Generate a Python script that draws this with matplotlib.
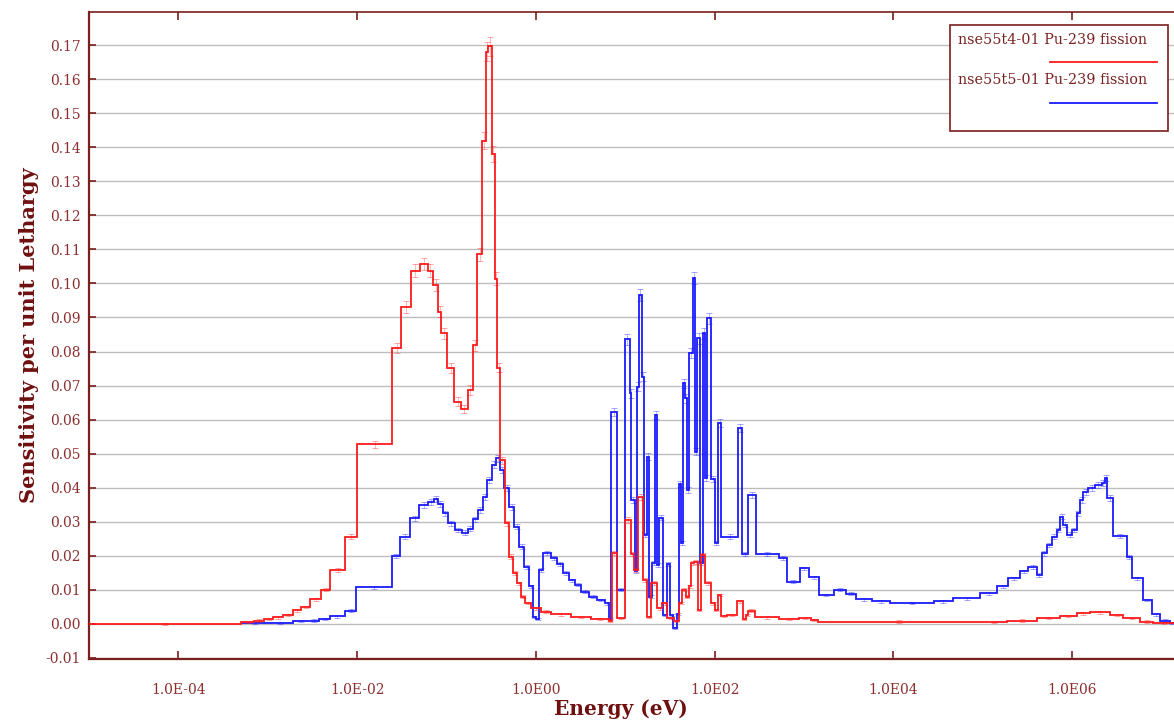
"""Pu-239 fission sensitivity profiles, two cases, on a log energy axis."""

import numpy as np
import matplotlib

matplotlib.use("Agg")
import matplotlib.pyplot as plt
from matplotlib.lines import Line2D
from matplotlib.patches import Rectangle
from matplotlib.ticker import FixedLocator, FuncFormatter

# group boundaries given as log10(E / eV); one more edge than values
red_log_edges = [
    -5.0, -3.296, -3.151, -3.039, -2.939, -2.827, -2.715, -2.626, -2.525, -2.402,
    -2.302, -2.134, -2.000, -1.609, -1.508, -1.397, -1.302, -1.212, -1.151, -1.095,
    -1.056, -0.994, -0.911, -0.838, -0.760, -0.704, -0.659, -0.598, -0.559, -0.531,
    -0.492, -0.458, -0.430, -0.402, -0.346, -0.296, -0.257, -0.212, -0.168, -0.123,
    -0.056, 0.056, 0.168, 0.391, 0.615, 0.816, 0.849, 0.905, 0.994, 1.061,
    1.098, 1.143, 1.203, 1.248, 1.293, 1.360, 1.416, 1.472, 1.545, 1.601,
    1.639, 1.676, 1.713, 1.740, 1.769, 1.813, 1.844, 1.888, 1.963, 2.000,
    2.037, 2.075, 2.142, 2.254, 2.313, 2.346, 2.372, 2.447, 2.718, 2.942,
    3.073, 3.162, 4.972, 5.270, 5.606, 5.866, 6.053, 6.201, 6.425, 6.573,
    6.760, 6.908, 7.140,
]
red_values = [
    0.0, 0.0005, 0.0010, 0.0014, 0.0019, 0.0026, 0.0040, 0.0050, 0.0072, 0.0100,
    0.0159, 0.0256, 0.0527, 0.0810, 0.0930, 0.1037, 0.1057, 0.1037, 0.0996, 0.0917,
    0.0854, 0.0751, 0.0653, 0.0631, 0.0687, 0.0818, 0.1085, 0.1419, 0.1680, 0.1696,
    0.1380, 0.1014, 0.0753, 0.0481, 0.0296, 0.0198, 0.0149, 0.0119, 0.0080, 0.0061,
    0.0046, 0.0036, 0.0028, 0.0020, 0.0015, 0.0010, 0.0208, 0.0017, 0.0305, 0.0205,
    0.0159, 0.0374, 0.0129, 0.0021, 0.0120, 0.0046, 0.0060, 0.0017, 0.0008, 0.0061,
    0.0100, 0.0080, 0.0110, 0.0178, 0.0183, 0.0041, 0.0203, 0.0120, 0.0060, 0.0041,
    0.0085, 0.0023, 0.0027, 0.0066, 0.0015, 0.0026, 0.0039, 0.0019, 0.0014, 0.0017,
    0.0011, 0.0007, 0.0006, 0.0010, 0.0017, 0.0024, 0.0031, 0.0034, 0.0026, 0.0017,
    0.0007, 0.0002,
]

blue_log_edges = [
    -3.296, -2.998, -2.718, -2.533, -2.421, -2.309, -2.134, -2.008, -1.609, -1.516,
    -1.404, -1.304, -1.210, -1.143, -1.098, -1.042, -0.987, -0.905, -0.830, -0.763,
    -0.707, -0.651, -0.596, -0.547, -0.495, -0.447, -0.399, -0.354, -0.298, -0.242,
    -0.187, -0.131, -0.075, -0.037, 0.000, 0.037, 0.075, 0.168, 0.235, 0.302,
    0.369, 0.436, 0.503, 0.592, 0.682, 0.771, 0.819, 0.846, 0.905, 0.994,
    1.054, 1.069, 1.106, 1.136, 1.154, 1.184, 1.210, 1.240, 1.270, 1.304,
    1.330, 1.360, 1.382, 1.427, 1.464, 1.501, 1.539, 1.575, 1.601, 1.620,
    1.642, 1.668, 1.687, 1.713, 1.754, 1.780, 1.807, 1.836, 1.866, 1.888,
    1.918, 1.955, 2.000, 2.037, 2.075, 2.260, 2.309, 2.372, 2.458, 2.718,
    2.812, 2.953, 3.054, 3.165, 3.333, 3.475, 3.587, 3.762, 3.966, 4.450,
    4.670, 4.972, 5.159, 5.288, 5.419, 5.512, 5.606, 5.661, 5.717, 5.773,
    5.829, 5.866, 5.903, 5.947, 5.997, 6.053, 6.089, 6.126, 6.182, 6.257,
    6.332, 6.369, 6.388, 6.462, 6.611, 6.667, 6.790, 6.891, 6.983, 7.095,
    7.140,
]
blue_values = [
    0.0002, 0.0004, 0.0008, 0.0010, 0.0015, 0.0022, 0.0039, 0.0108, 0.0200, 0.0256,
    0.0310, 0.0349, 0.0359, 0.0366, 0.0352, 0.0325, 0.0296, 0.0276, 0.0268, 0.0280,
    0.0307, 0.0335, 0.0374, 0.0423, 0.0467, 0.0486, 0.0452, 0.0398, 0.0344, 0.0286,
    0.0227, 0.0168, 0.0110, 0.0021, 0.0015, 0.0159, 0.0208, 0.0195, 0.0175, 0.0150,
    0.0128, 0.0115, 0.0095, 0.0080, 0.0070, 0.0060, 0.0015, 0.0623, 0.0100, 0.0836,
    0.0677, 0.0364, 0.0154, 0.0697, 0.0966, 0.0726, 0.0261, 0.0491, 0.0080, 0.0178,
    0.0614, 0.0173, 0.0312, 0.0027, 0.0175, 0.0027, -0.0013, 0.0030, 0.0412, 0.0237,
    0.0707, 0.0663, 0.0393, 0.0795, 0.1015, 0.0506, 0.0839, 0.0180, 0.0853, 0.0428,
    0.0898, 0.0425, 0.0237, 0.0589, 0.0256, 0.0575, 0.0205, 0.0379, 0.0205, 0.0193,
    0.0124, 0.0163, 0.0137, 0.0085, 0.0100, 0.0088, 0.0072, 0.0066, 0.0061, 0.0066,
    0.0075, 0.0090, 0.0110, 0.0134, 0.0154, 0.0168, 0.0144, 0.0207, 0.0232, 0.0256,
    0.0276, 0.0315, 0.0291, 0.0262, 0.0276, 0.0325, 0.0364, 0.0388, 0.0398, 0.0408,
    0.0413, 0.0428, 0.0369, 0.0258, 0.0196, 0.0134, 0.0070, 0.0028, 0.0010, 0.0003,
]

series_labels = ["nse55t4-01 Pu-239 fission", "nse55t5-01 Pu-239 fission"]
x_tick_exponents = [-4, -2, 0, 2, 4, 6]
y_ticks = [round(0.01 * k, 2) for k in range(-1, 18)]

RED = "#ff1a1a"
BLUE = "#1a1aff"
AXIS = "#7a1e1e"
TICK_TEXT = "#8c2f2f"
GRID = "#bdbdbd"


def _draw_series(ax, log_edges, values, color, zorder):
    edges = 10.0 ** np.asarray(log_edges)
    vals = np.asarray(values)
    ax.stairs(vals, edges, baseline=None, color=color, linewidth=1.3, zorder=zorder)
    # faint error marks at each group centre, as in the original plot
    centres = np.sqrt(edges[:-1] * edges[1:])
    err = 0.015 * np.abs(vals) + 0.0003
    ax.errorbar(centres, vals, yerr=err, fmt="none", ecolor=color, elinewidth=0.4,
                capsize=2.2, capthick=0.5, alpha=0.55, zorder=zorder - 0.5)


def _exp_label(value, _pos):
    exp = int(round(np.log10(value)))
    sign = "-" if exp < 0 else ""
    return f"1.0E{sign}{abs(exp):02d}"


plt.rcParams["font.family"] = ["DejaVu Serif"]

fig = plt.figure(figsize=(11.74, 7.23), dpi=100)
ax = fig.add_axes([89 / 1174, 64 / 723, 1085 / 1174, 647 / 723])

_draw_series(ax, blue_log_edges, blue_values, BLUE, zorder=3)
_draw_series(ax, red_log_edges, red_values, RED, zorder=4)

ax.set_xscale("log")
ax.set_xlim(10.0 ** red_log_edges[0], 10.0 ** red_log_edges[-1])
ax.set_ylim(-0.0103, 0.1797)

ax.xaxis.set_major_locator(FixedLocator([10.0 ** e for e in x_tick_exponents]))
ax.xaxis.set_minor_locator(FixedLocator([]))
ax.xaxis.set_major_formatter(FuncFormatter(_exp_label))
ax.yaxis.set_major_locator(FixedLocator(y_ticks))
ax.yaxis.set_major_formatter(FuncFormatter(lambda v, _p: f"{v:.2f}"))

ax.tick_params(axis="x", which="major", direction="in", top=True, length=6,
               width=1.2, color=AXIS, labelcolor=TICK_TEXT, labelsize=10, pad=17)
ax.tick_params(axis="y", which="major", direction="in", length=5, width=1.2,
               color=AXIS, labelcolor=TICK_TEXT, labelsize=10, pad=6)

ax.grid(True, axis="y", color=GRID, linewidth=1.0)
ax.set_axisbelow(True)
for name, spine in ax.spines.items():
    spine.set_color(AXIS)
    spine.set_linewidth(1.6 if name in ("left", "bottom") else 1.2)
ax.spines["right"].set_visible(False)

ax.set_xlabel("Energy (eV)", fontsize=14.5, fontweight="bold", color="#6e1010")
ax.xaxis.set_label_coords(0.49, -0.062)
ax.set_ylabel("Sensitivity per unit Lethargy", fontsize=15, fontweight="bold",
              color="#6e1010")
ax.yaxis.set_label_coords(-0.046, 0.50)

# legend box drawn by hand, matching the original layout
ax.add_patch(Rectangle((0.7935, 0.8161), 0.2010, 0.1638, transform=ax.transAxes,
                       facecolor="white", edgecolor=AXIS, linewidth=1.2, zorder=6))
for label, color, text_y, line_y in zip(series_labels, [RED, BLUE],
                                        [0.9567, 0.8949], [0.9227, 0.8594]):
    ax.text(0.8010, text_y, label, transform=ax.transAxes, fontsize=10.4,
            color="#7a2222", va="center", ha="left", zorder=7)
    ax.add_line(Line2D([0.8857, 0.9843], [line_y, line_y], transform=ax.transAxes,
                       color=color, linewidth=1.3, zorder=7))

fig.savefig("out.png", dpi=100)
